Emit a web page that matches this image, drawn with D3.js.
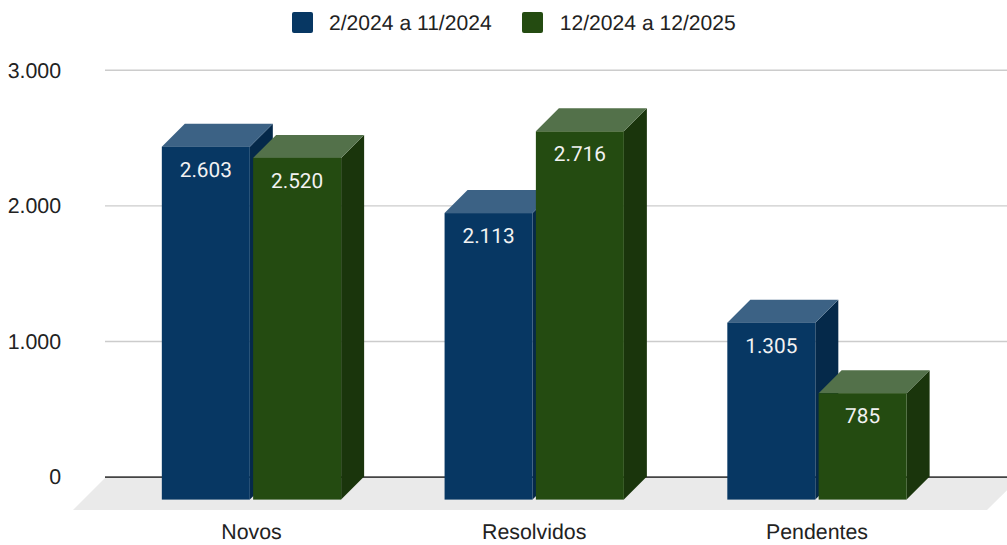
<!DOCTYPE html>
<html><head><meta charset="utf-8">
<script src="https://cdn.jsdelivr.net/npm/d3@7"></script>
<style>html,body{margin:0;padding:0;background:#fff}svg{display:block}text{text-rendering:geometricPrecision}</style>
</head><body><svg id="c" width="1007" height="545"></svg>
<script>
const categories = ["Novos","Resolvidos","Pendentes"];
const seriesNames = ["2/2024 a 11/2024","12/2024 a 12/2025"];
const series1 = [2603,2113,1305];
const series2 = [2520,2716,785];
const yTicks = [0,1000,2000,3000];
const frontColors = ["#073763","#244b11"];
const topColors = ["#3c6285","#53714a"];
const sideColors = ["#05294a","#1a350c"];

const svg = d3.select("#c");
const depth = 23, baseY = 499.6;
const fmt = d3.formatLocale({decimal:",",thousands:".",grouping:[3],currency:["",""]}).format(",d");
const y = d3.scaleLinear().domain([0,3000]).range([baseY,baseY-406.8]);
const x0 = d3.scaleBand().domain(categories).range([110.1,958.35]).paddingInner(0).paddingOuter(0);
const barW = 88, gap = 3.3;
const x1 = d3.scaleBand().domain([0,1]).range([0,barW*2+gap]).paddingInner(gap/(barW+gap)).paddingOuter(0);

// floor
svg.append("polygon").attr("points",[[73,510],[105.5,477.5],[1020,477.5],[987,510]].join(" ")).attr("fill","#eaeaea");

// axis with gridlines (shifted to back plane)
const axis = d3.axisLeft(y.copy().range([baseY-depth,baseY-depth-406.8])).tickValues(yTicks).tickFormat(fmt).tickSize(-902).tickPadding(44);
const g = svg.append("g").attr("transform","translate(105,0)").call(axis);
g.select(".domain").remove();
g.selectAll(".tick line").attr("stroke",d=>d===0?"#444":"#ccc").attr("stroke-width",d=>d===0?1.6:1.4);
g.selectAll(".tick text").attr("font-family","'Liberation Sans',Arial,sans-serif").attr("font-size",21.33).attr("fill","#222").attr("text-anchor","end").attr("x",-44).attr("dy","0.34em");

// bars
const rows = categories.flatMap((c,i)=>[{c,s:0,v:series1[i]},{c,s:1,v:series2[i]}]);
const bars = svg.append("g").selectAll("g").data(rows).join("g");
const bx = d=>x0(d.c)+ (x0.bandwidth()-(barW*2+gap))/2 + x1(d.s);
bars.append("polygon").attr("fill",d=>sideColors[d.s]).attr("points",d=>{const X=bx(d)+barW,T=y(d.v);return [[X,T],[X+depth,T-depth],[X+depth,baseY-depth],[X,baseY]].join(" ")});
bars.append("polygon").attr("fill",d=>topColors[d.s]).attr("points",d=>{const X=bx(d),T=y(d.v);return [[X,T],[X+depth,T-depth],[X+barW+depth,T-depth],[X+barW,T]].join(" ")});
bars.append("rect").attr("fill",d=>frontColors[d.s]).attr("x",bx).attr("y",d=>y(d.v)).attr("width",barW).attr("height",d=>baseY-y(d.v));
bars.append("text").attr("x",d=>bx(d)+barW/2).attr("y",d=>y(d.v)+22.7).attr("dy","0.36em").attr("text-anchor","middle")
  .attr("font-family","Roboto,sans-serif").attr("font-size",20.8).attr("fill","#f2f2f2").text(d=>fmt(d.v));

// category labels
svg.append("g").selectAll("text").data(categories).join("text")
  .attr("x",d=>x0(d)+x0.bandwidth()/2).attr("y",532).attr("dy","0.35em").attr("text-anchor","middle")
  .attr("font-family","'Liberation Sans',Arial,sans-serif").attr("font-size",21.33).attr("fill","#222").text(d=>d);

// legend
const legX = [292,522];
const lg = svg.append("g").selectAll("g").data(seriesNames).join("g").attr("transform",(d,i)=>`translate(${legX[i]},12)`);
lg.append("rect").attr("width",21).attr("height",21).attr("rx",2).attr("fill",(d,i)=>frontColors[i]);
lg.append("text").attr("x",(d,i)=>i?37.8:37).attr("y",10.5).attr("dy","0.35em").attr("font-family","'Liberation Sans',Arial,sans-serif").attr("font-size",21.1).attr("fill","#222").text(d=>d);
</script></body></html>
